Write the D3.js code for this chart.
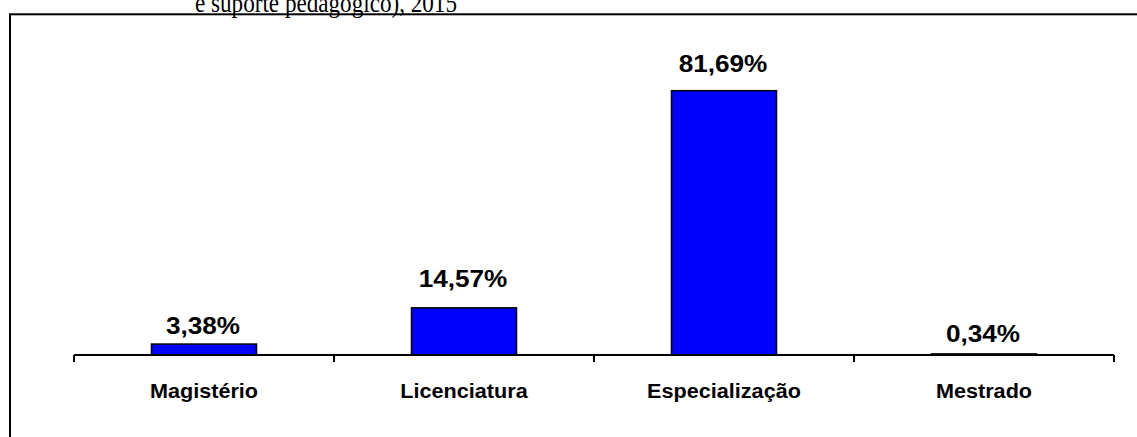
<!DOCTYPE html>
<html><head><meta charset="utf-8">
<script src="https://cdn.jsdelivr.net/npm/d3@7"></script>
<style>html,body{margin:0;padding:0;background:#fff;overflow:hidden}</style>
</head><body>
<svg id="c" width="1137" height="437"></svg>
<script>
const categories = ["Magistério", "Licenciatura", "Especialização", "Mestrado"];
const values = [3.38, 14.57, 81.69, 0.34];
const valueLabels = ["3,38%", "14,57%", "81,69%", "0,34%"];
const titleLine = "e suporte pedagógico), 2015";

const svg = d3.select("#c");
const axisY = 355, left = 74, right = 1114;

// frame
svg.append("rect").attr("x", 10).attr("y", 14.3).attr("width", 1200).attr("height", 500)
  .attr("fill", "none").attr("stroke", "#000").attr("stroke-width", 2);

// title (second line, cut at top as in the source)
svg.append("text").attr("x", 195).attr("y", 11.5)
  .attr("font-family", "'Liberation Serif', 'DejaVu Serif', serif").attr("font-size", 28)
  .attr("textLength", 262).attr("lengthAdjust", "spacingAndGlyphs")
  .attr("fill", "#000").text(titleLine);

const x = d3.scaleBand().domain(categories).range([left, right]).paddingInner(0.596).paddingOuter(0.298);
const y = d3.scaleLinear().domain([0, 90]).range([axisY, 63.8]);

// bars
svg.selectAll("rect.bar").data(values).join("rect").attr("class", "bar")
  .attr("x", (d, i) => x(categories[i]))
  .attr("y", d => y(d))
  .attr("width", x.bandwidth())
  .attr("height", d => y(0) - y(d))
  .attr("fill", "#0000FF").attr("stroke", "#000").attr("stroke-width", 1.5);

// axis
const axis = d3.axisBottom(x).tickSize(0).tickFormat("");
const gAx = svg.append("g").attr("transform", `translate(0,${axisY})`).call(axis);
gAx.select(".domain").remove();
svg.append("line").attr("x1", left).attr("x2", right).attr("y1", axisY).attr("y2", axisY)
  .attr("stroke", "#000").attr("stroke-width", 2);
const step = x.step();
const bounds = d3.range(categories.length + 1).map(i => left + i * step);
svg.selectAll("line.tk").data(bounds).join("line").attr("class", "tk")
  .attr("x1", d => d).attr("x2", d => d).attr("y1", axisY).attr("y2", axisY + 7)
  .attr("stroke", "#000").attr("stroke-width", 2);

// category labels
const font = "'Liberation Sans', Arial, sans-serif";
svg.selectAll("text.cat").data(categories).join("text").attr("class", "cat")
  .attr("transform", d => `translate(${x(d) + x.bandwidth() / 2},398) scale(1.03,1)`)
  .attr("text-anchor", "middle").attr("font-family", font).attr("font-weight", "bold")
  .attr("font-size", 21).attr("fill", "#000").text(d => d);

// value labels
const labelDy = [10, 21, 19, 12];
svg.selectAll("text.val").data(values).join("text").attr("class", "val")
  .attr("transform", (d, i) => `translate(${x(categories[i]) + x.bandwidth() / 2 - 1},${y(d) - labelDy[i]}) scale(1.09,1)`)
  .attr("text-anchor", "middle").attr("font-family", font).attr("font-weight", "bold")
  .attr("font-size", 24).attr("fill", "#000").text((d, i) => valueLabels[i]);
</script>
</body></html>
